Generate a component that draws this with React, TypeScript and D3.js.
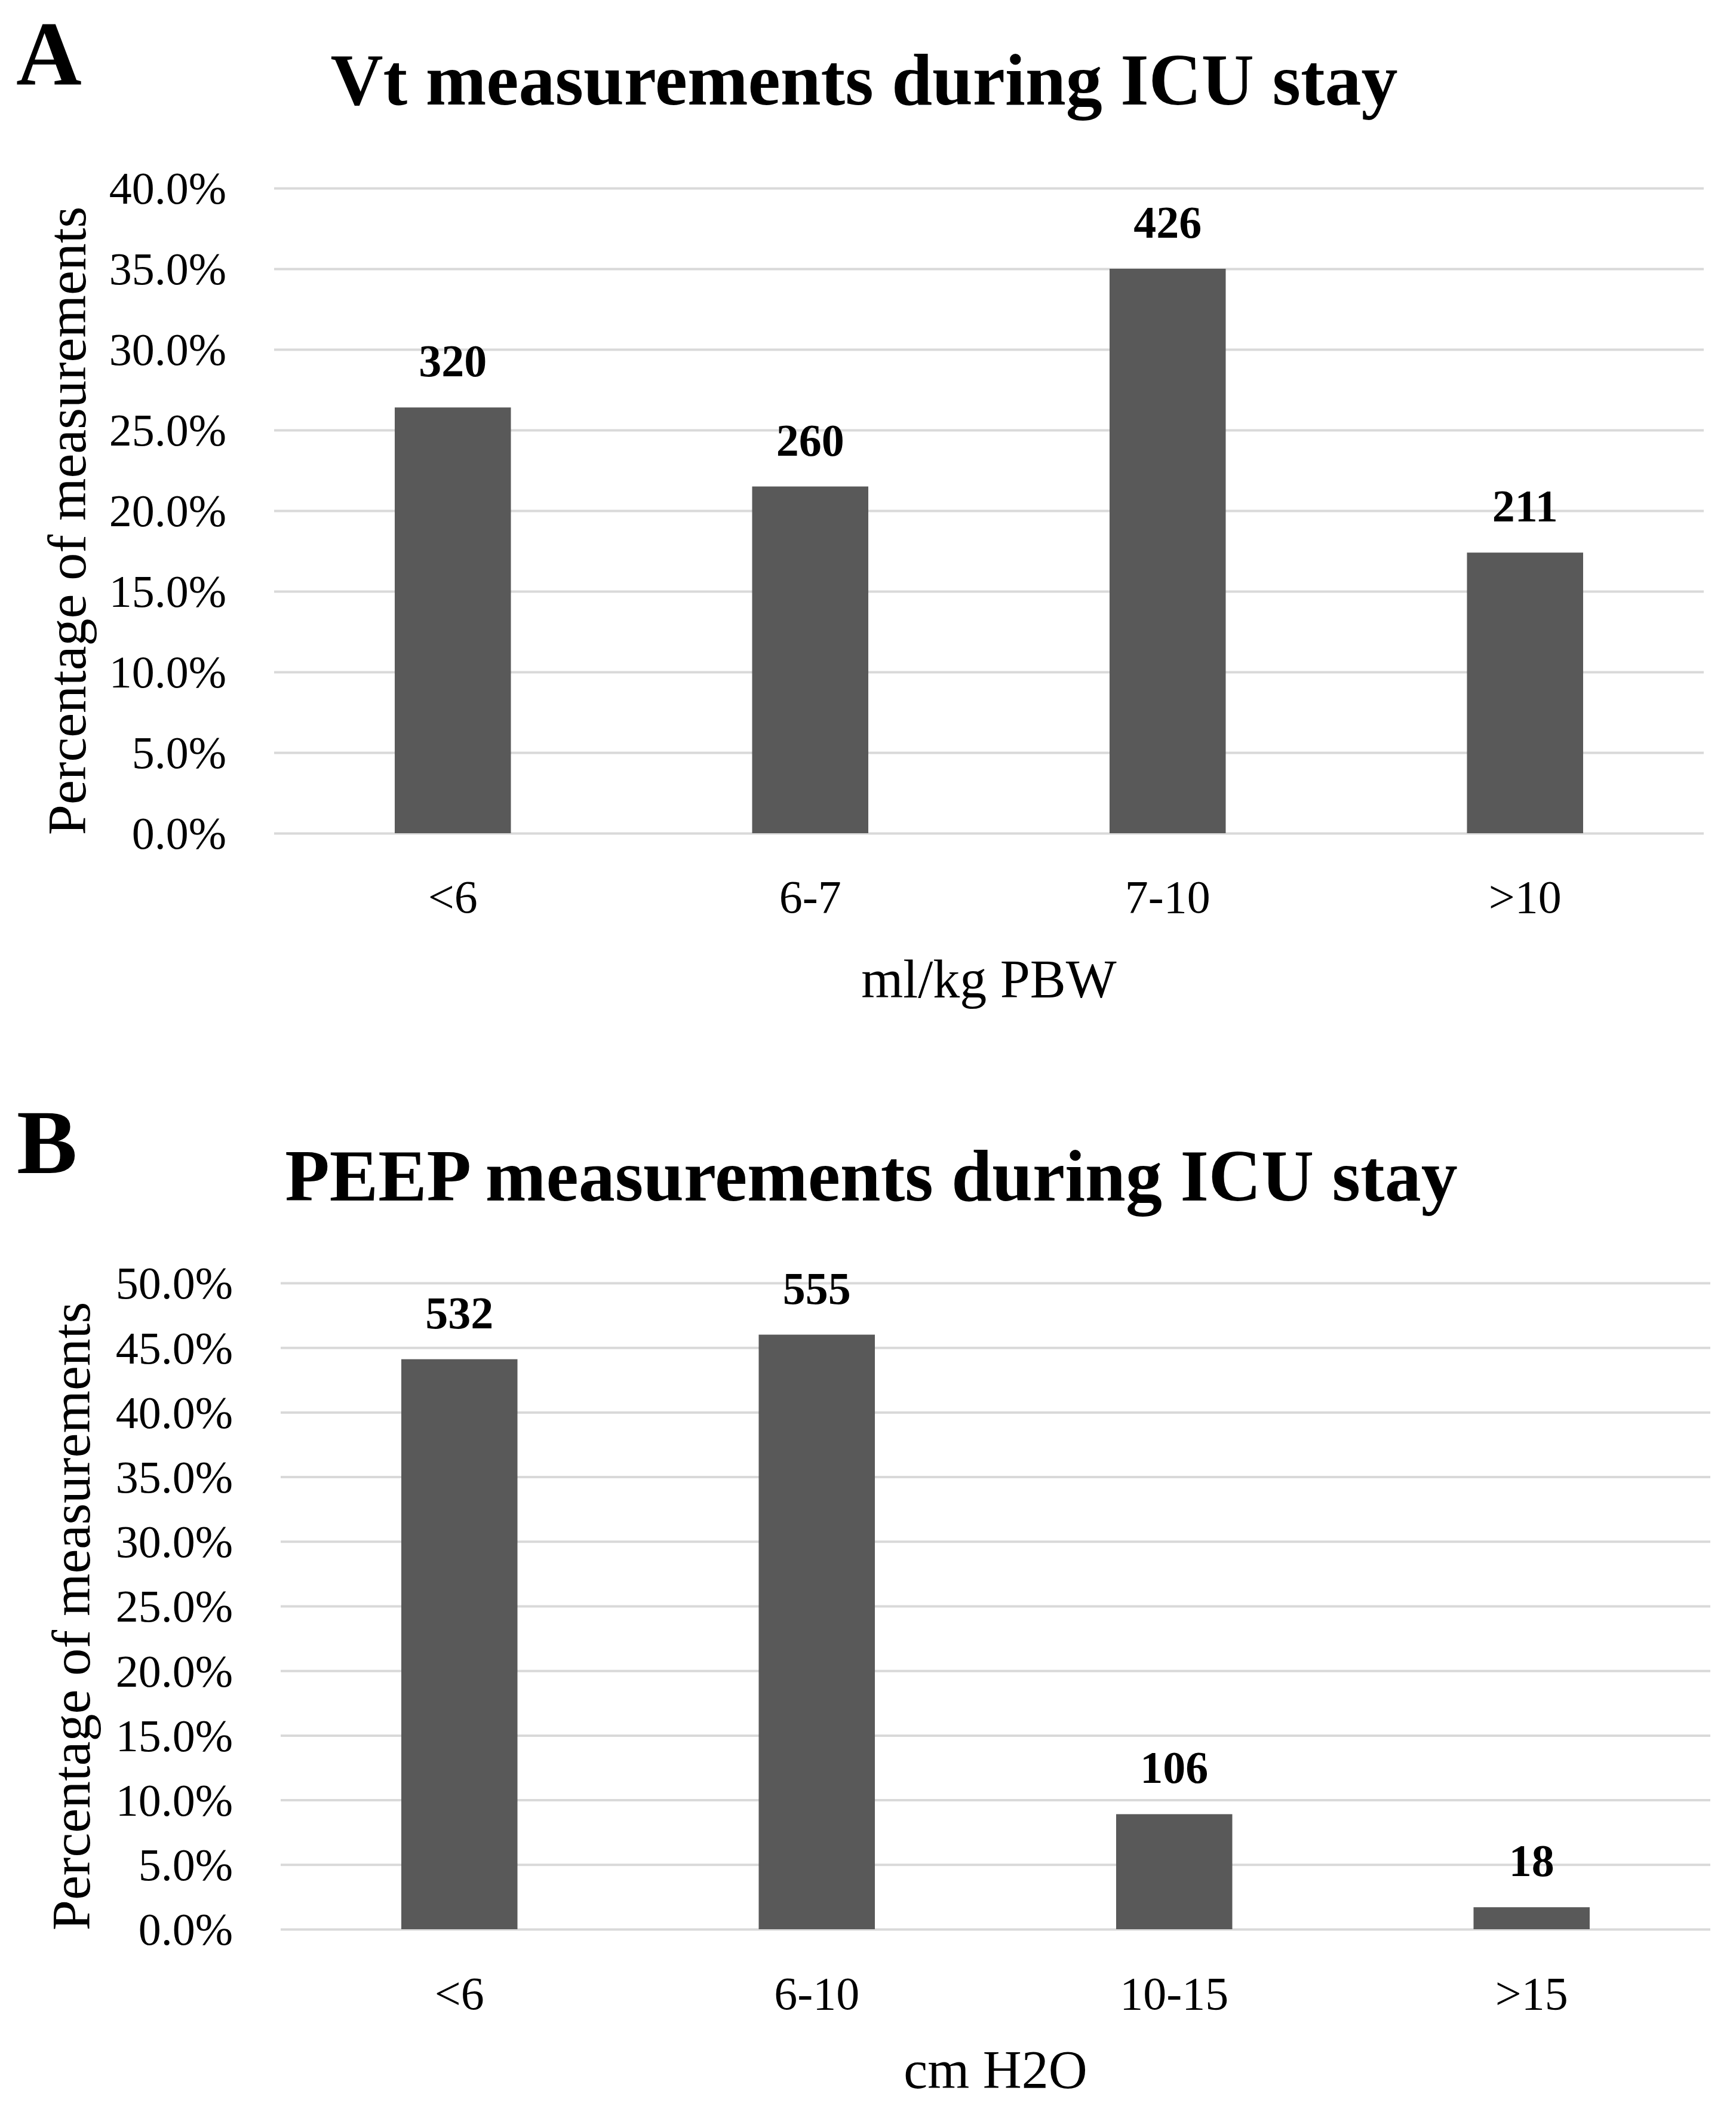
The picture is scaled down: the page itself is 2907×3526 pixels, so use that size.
// Vt and PEEP measurement distributions, two stacked bar panels
import { useEffect, useRef } from 'react'
import * as d3 from 'd3'

const vtCategories = ['<6', '6-7', '7-10', '>10']
const vtPercent = [26.4, 21.5, 35.0, 17.4]
const vtCounts = [320, 260, 426, 211]
const vtTicks = [0, 5, 10, 15, 20, 25, 30, 35, 40]

const peepCategories = ['<6', '6-10', '10-15', '>15']
const peepPercent = [44.1, 46.0, 8.9, 1.7]
const peepCounts = [532, 555, 106, 18]
const peepTicks = [0, 5, 10, 15, 20, 25, 30, 35, 40, 45, 50]

const WIDTH = 2907
const HEIGHT = 3526
const FONT = '"Liberation Serif", "Times New Roman", serif'
const BAR = '#595959'
const GRID = '#d9d9d9'

interface Panel {
  letter: string
  letterX: number
  letterY: number
  title: string
  titleX: number
  titleY: number
  xTitle: string
  xTitleY: number
  categories: string[]
  percent: number[]
  counts: number[]
  ticks: number[]
  left: number
  right: number
  top: number
  bottom: number
  yTitleX: number
  yTitleCenter: number
  xLabelY: number
}

const panels: Panel[] = [
  {
    letter: 'A', letterX: 27, letterY: 141,
    title: 'Vt measurements during ICU stay', titleX: 1447, titleY: 175,
    xTitle: 'ml/kg PBW', xTitleY: 1670,
    categories: vtCategories, percent: vtPercent, counts: vtCounts, ticks: vtTicks,
    left: 459, right: 2853, top: 315, bottom: 1395,
    yTitleX: 143, yTitleCenter: 872, xLabelY: 1528
  },
  {
    letter: 'B', letterX: 28, letterY: 1964,
    title: 'PEEP measurements during ICU stay', titleX: 1459, titleY: 2010,
    xTitle: 'cm H2O', xTitleY: 3496,
    categories: peepCategories, percent: peepPercent, counts: peepCounts, ticks: peepTicks,
    left: 470, right: 2864, top: 2148, bottom: 3230,
    yTitleX: 150, yTitleCenter: 2706, xLabelY: 3364
  }
]

function drawPanel(svg: d3.Selection<SVGSVGElement, unknown, null, undefined>, p: Panel) {
  const innerWidth = p.right - p.left
  const innerHeight = p.bottom - p.top

  const xScale = d3.scaleBand<string>()
    .domain(p.categories)
    .range([0, innerWidth])
    .paddingInner(0.675)
    .paddingOuter(0.3375)

  const yScale = d3.scaleLinear()
    .domain([0, d3.max(p.ticks) as number])
    .range([innerHeight, 0])

  // panel letter
  svg.append('text')
    .attr('x', p.letterX)
    .attr('y', p.letterY)
    .style('font-family', FONT)
    .style('font-weight', 'bold')
    .style('font-size', '152px')
    .text(p.letter)

  // title
  svg.append('text')
    .attr('x', p.titleX)
    .attr('y', p.titleY)
    .attr('text-anchor', 'middle')
    .style('font-family', FONT)
    .style('font-weight', 'bold')
    .style('font-size', '122px')
    .text(p.title)

  const g = svg.append('g')
    .attr('transform', `translate(${p.left},${p.top})`)

  // gridlines + y tick labels
  const yAxis = g.append('g')
    .call(d3.axisLeft(yScale)
      .tickValues(p.ticks)
      .tickSize(-innerWidth)
      .tickPadding(80)
      .tickFormat(d => `${(+d).toFixed(1)}%`)
    )
  yAxis.select('.domain').remove()
  yAxis.selectAll('line')
    .attr('stroke', GRID)
    .attr('stroke-width', 4)
  yAxis.selectAll('text')
    .attr('dy', '0.34em')
    .attr('fill', '#000')
    .style('font-family', FONT)
    .style('font-size', '76px')

  // bars
  g.selectAll('.bar')
    .data(p.percent)
    .enter()
    .append('rect')
    .attr('class', 'bar')
    .attr('x', (_, i) => xScale(p.categories[i]) as number)
    .attr('y', d => yScale(d))
    .attr('width', xScale.bandwidth())
    .attr('height', d => innerHeight - yScale(d))
    .attr('fill', BAR)

  // count labels
  g.selectAll('.count')
    .data(p.percent)
    .enter()
    .append('text')
    .attr('class', 'count')
    .attr('x', (_, i) => (xScale(p.categories[i]) as number) + xScale.bandwidth() / 2)
    .attr('y', d => yScale(d) - 52)
    .attr('text-anchor', 'middle')
    .style('font-family', FONT)
    .style('font-weight', 'bold')
    .style('font-size', '76px')
    .text((_, i) => p.counts[i])

  // category labels
  g.selectAll('.cat')
    .data(p.categories)
    .enter()
    .append('text')
    .attr('class', 'cat')
    .attr('x', d => (xScale(d) as number) + xScale.bandwidth() / 2)
    .attr('y', p.xLabelY - p.top)
    .attr('text-anchor', 'middle')
    .style('font-family', FONT)
    .style('font-size', '78px')
    .text(d => d)

  // axis titles
  g.append('text')
    .attr('x', innerWidth / 2)
    .attr('y', p.xTitleY - p.top)
    .attr('text-anchor', 'middle')
    .style('font-family', FONT)
    .style('font-size', '90px')
    .text(p.xTitle)

  svg.append('text')
    .attr('transform', `translate(${p.yTitleX},${p.yTitleCenter}) rotate(-90)`)
    .attr('text-anchor', 'middle')
    .style('font-family', FONT)
    .style('font-size', '92px')
    .text('Percentage of measurements')
}

export default function App() {
  const svgRef = useRef<SVGSVGElement>(null)

  useEffect(() => {
    if (!svgRef.current) return
    const svg = d3.select(svgRef.current)
    svg.selectAll('*').remove()
    panels.forEach(p => drawPanel(svg, p))
  }, [])

  return (
    <svg
      ref={svgRef}
      width={WIDTH}
      height={HEIGHT}
      style={{ position: 'absolute', left: 0, top: 0, background: '#fff' }}
    />
  )
}
